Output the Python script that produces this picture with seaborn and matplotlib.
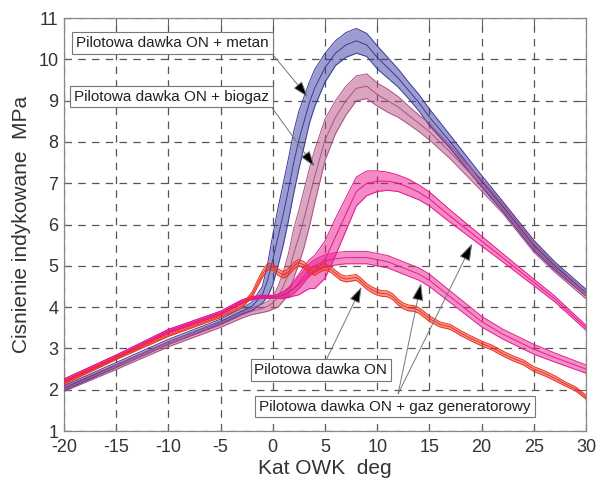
import matplotlib
matplotlib.use("Agg")
import matplotlib.pyplot as plt
import numpy as np
import pandas as pd
import seaborn as sns

# Crank angle grid (deg) shared by the gas-fuelled bundles
angle = [-20, -15, -10, -5, -3, -2, -1, -0.5, 0, 0.5, 1, 1.5, 2, 2.5, 3, 3.5, 4,
         5, 6, 7, 8, 9, 10, 11, 12, 13, 14, 15, 17, 20, 22, 25, 27, 30]

# Pilot diesel dose + methane: mean pressure and half-width of the cycle bundle (MPa)
metan_mean = [2.04, 2.6, 3.16, 3.65, 3.9, 4.02, 4.3, 4.65, 5.15, 5.7, 6.25, 6.85, 7.5,
              8.05, 8.5, 8.95, 9.3, 9.8, 10.15, 10.35, 10.45, 10.35, 10.05, 9.8, 9.55,
              9.25, 8.95, 8.6, 8.0, 7.05, 6.45, 5.5, 5.0, 4.35]
metan_spread = [0.06, 0.06, 0.06, 0.06, 0.07, 0.1, 0.2, 0.4, 0.6, 0.7, 0.75, 0.75, 0.75,
                0.7, 0.6, 0.5, 0.45, 0.35, 0.3, 0.3, 0.3, 0.28, 0.28, 0.25, 0.22, 0.2,
                0.2, 0.2, 0.16, 0.14, 0.12, 0.12, 0.1, 0.08]

# Pilot diesel dose + biogas
biogaz_mean = [2.02, 2.55, 3.1, 3.57, 3.8, 3.9, 3.97, 4.02, 4.1, 4.25, 4.5, 4.8, 5.3,
               5.7, 6.15, 6.65, 7.15, 8.05, 8.6, 9.0, 9.3, 9.35, 9.15, 9.0, 8.85, 8.65,
               8.45, 8.25, 7.75, 6.95, 6.4, 5.45, 4.95, 4.28]
biogaz_spread = [0.06, 0.06, 0.06, 0.06, 0.07, 0.08, 0.1, 0.12, 0.15, 0.25, 0.35, 0.5,
                 0.6, 0.65, 0.7, 0.7, 0.65, 0.5, 0.4, 0.35, 0.3, 0.3, 0.28, 0.28, 0.25,
                 0.22, 0.2, 0.2, 0.16, 0.14, 0.12, 0.12, 0.1, 0.08]

# Pilot diesel dose + producer gas, high-load bundle
gaz_hi_mean = [2.22, 2.8, 3.42, 3.86, 4.13, 4.22, 4.25, 4.25, 4.25, 4.26, 4.3, 4.35,
               4.45, 4.55, 4.68, 4.8, 4.85, 5.15, 5.7, 6.25, 6.8, 7.0, 7.05, 7.05, 7.0,
               6.9, 6.78, 6.62, 6.2, 5.6, 5.2, 4.6, 4.2, 3.5]
gaz_hi_spread = [0.04, 0.04, 0.04, 0.04, 0.04, 0.03, 0.03, 0.03, 0.03, 0.05, 0.08, 0.12,
                 0.18, 0.25, 0.3, 0.35, 0.4, 0.45, 0.45, 0.4, 0.35, 0.3, 0.25, 0.22,
                 0.2, 0.2, 0.18, 0.17, 0.15, 0.12, 0.1, 0.08, 0.07, 0.06]

# Pilot diesel dose + producer gas, low-load bundle
gaz_lo_mean = [2.22, 2.8, 3.42, 3.86, 4.13, 4.22, 4.25, 4.25, 4.25, 4.26, 4.28, 4.35,
               4.45, 4.6, 4.75, 4.9, 5.0, 5.12, 5.17, 5.2, 5.2, 5.2, 5.15, 5.1, 5.0,
               4.9, 4.8, 4.65, 4.25, 3.65, 3.35, 2.98, 2.78, 2.5]
gaz_lo_spread = [0.04, 0.04, 0.04, 0.04, 0.04, 0.04, 0.04, 0.04, 0.04, 0.05, 0.07, 0.1,
                 0.12, 0.15, 0.15, 0.15, 0.15, 0.15, 0.15, 0.15, 0.15, 0.15, 0.15, 0.15,
                 0.15, 0.15, 0.15, 0.15, 0.14, 0.13, 0.12, 0.12, 0.11, 0.1]

# Pilot diesel dose only (finer angle grid to keep the pressure ripple)
on_angle = [-20, -15, -10, -5, -3, -2, -1.5, -1, -0.5, 0, 0.5, 1, 1.5, 2, 2.5, 3, 3.5,
            4, 4.5, 5, 5.5, 6, 6.5, 7, 7.5, 8, 8.5, 9, 9.5, 10, 10.5, 11, 11.5, 12,
            12.5, 13, 13.5, 14, 14.5, 15, 16, 17, 18, 19, 20, 21, 22, 23, 24, 25, 26,
            27, 28, 29, 30]
on_mean = [2.16, 2.76, 3.32, 3.78, 4.02, 4.3, 4.55, 4.8, 4.98, 4.97, 4.85, 4.78, 4.85,
           5.0, 5.08, 5.02, 4.9, 4.85, 4.93, 4.98, 4.92, 4.82, 4.72, 4.68, 4.7, 4.72,
           4.62, 4.5, 4.42, 4.36, 4.33, 4.32, 4.25, 4.12, 4.03, 3.98, 3.97, 3.92, 3.82,
           3.72, 3.58, 3.52, 3.37, 3.24, 3.12, 3.02, 2.88, 2.76, 2.66, 2.5, 2.4, 2.28,
           2.14, 2.02, 1.82]
on_spread = [0.03, 0.03, 0.03, 0.03, 0.04, 0.06, 0.08, 0.08, 0.08, 0.08, 0.08, 0.08,
             0.08, 0.08, 0.08, 0.08, 0.08, 0.08, 0.08, 0.08, 0.07, 0.07, 0.07, 0.07,
             0.07, 0.07, 0.07, 0.07, 0.07, 0.07, 0.07, 0.07, 0.07, 0.07, 0.07, 0.07,
             0.07, 0.07, 0.07, 0.07, 0.06, 0.06, 0.06, 0.06, 0.06, 0.06, 0.06, 0.06,
             0.06, 0.06, 0.06, 0.06, 0.05, 0.05, 0.05]

series = [
    ("metan", angle, metan_mean, metan_spread, "#3a3a9e"),
    ("biogaz", angle, biogaz_mean, biogaz_spread, "#b34e82"),
    ("gaz_lo", angle, gaz_lo_mean, gaz_lo_spread, "#e5208e"),
    ("gaz_hi", angle, gaz_hi_mean, gaz_hi_spread, "#e8158c"),
    ("on", on_angle, on_mean, on_spread, "#ec3422"),
]

rows = []
for name, ang, mean, spread, _ in series:
    m = np.asarray(mean)
    s = np.asarray(spread)
    for trace, vals in (("lo", m - s), ("mid", m), ("hi", m + s)):
        for a, v in zip(ang, vals):
            rows.append({"angle": a, "pressure": v, "group": name, "trace": trace})
df = pd.DataFrame(rows)

sns.set_theme(style="white")
plt.rcParams["font.family"] = ["Liberation Sans", "DejaVu Sans"]
plt.rcParams["axes.unicode_minus"] = False

fig = plt.figure(figsize=(5.97, 4.79), dpi=100)
ax = fig.add_axes([0.1072, 0.1002, 0.8744, 0.862])

palette = {name: col for name, _, _, _, col in series}
for name, ang, mean, spread, col in series:
    m = np.asarray(mean)
    s = np.asarray(spread)
    ax.fill_between(ang, m - s, m + s, color=col, alpha=0.5, lw=0, zorder=2)

sns.lineplot(data=df, x="angle", y="pressure", hue="group", units="trace",
             estimator=None, palette=palette, hue_order=[s[0] for s in series],
             lw=0.7, legend=False, sort=False, ax=ax, zorder=3)

ax.set_xlim(-20, 30)
ax.set_ylim(1, 11)
ax.set_xticks(range(-20, 31, 5))
ax.set_yticks(range(1, 12))
ax.grid(True, ls=(0, (6, 5)), color="#555555", lw=0.9)
for sp in ax.spines.values():
    sp.set_color("#888888")
    sp.set_linewidth(0.9)
ax.tick_params(direction="in", length=5, width=0.8, color="#666666",
               labelsize=13, labelcolor="#333333", top=True, right=True,
               bottom=True, left=True)
ax.tick_params(axis="x", pad=6)
ax.tick_params(axis="y", pad=4)
ax.set_xlabel("Kat OWK  deg", fontsize=15, color="#333333", labelpad=2)
ax.set_ylabel("Cisnienie indykowane  MPa", fontsize=15, color="#333333", labelpad=5)

box = dict(boxstyle="square,pad=0.25", fc="white", ec="#777777", lw=0.8)
arrow = dict(arrowstyle="-|>,head_length=0.9,head_width=0.3", edgecolor="#777777",
             facecolor="black", lw=0.7, shrinkA=0, shrinkB=0)

ax.annotate("Pilotowa dawka ON + metan", xy=(3.35, 9.09), xytext=(-9.6, 10.4),
            ha="center", va="center", fontsize=11, color="#222222", bbox=box,
            arrowprops=dict(arrow, relpos=(1, 0)), zorder=6)
ax.annotate("Pilotowa dawka ON + biogaz", xy=(4.0, 7.4), xytext=(-9.7, 9.1),
            ha="center", va="center", fontsize=11, color="#222222", bbox=box,
            arrowprops=dict(arrow, relpos=(1, 0)), zorder=6)
ax.annotate("Pilotowa dawka ON", xy=(8.5, 4.49), xytext=(4.6, 2.48),
            ha="center", va="center", fontsize=11, color="#222222", bbox=box,
            arrowprops=dict(arrow, relpos=(0.53, 1)), zorder=6)
# the producer-gas label points at both of its bundles from one spot on the box
ax.annotate("", xy=(19.1, 5.54), xytext=(12.0, 1.9),
            arrowprops=dict(arrow), zorder=5)
ax.annotate("", xy=(14.2, 4.58), xytext=(12.0, 1.9),
            arrowprops=dict(arrow), zorder=5)
ax.text(11.7, 1.59, "Pilotowa dawka ON + gaz generatorowy", ha="center", va="center",
        fontsize=11, color="#222222", bbox=box, zorder=6)

fig.savefig("out.png", dpi=100)
